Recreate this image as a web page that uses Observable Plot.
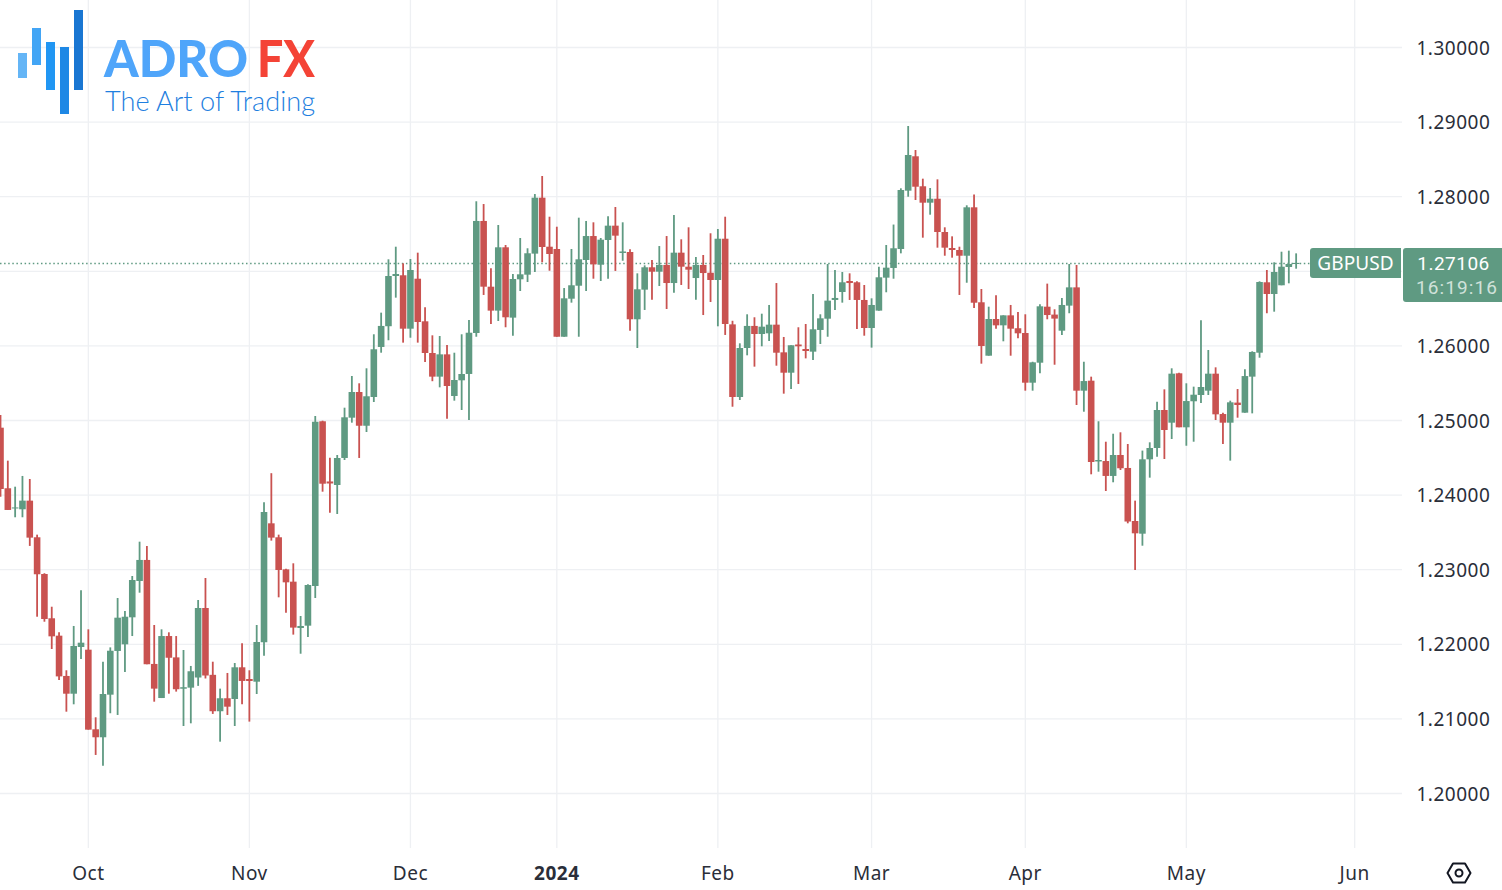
<!DOCTYPE html>
<html>
<head>
<meta charset="utf-8">
<script src="https://cdn.jsdelivr.net/npm/d3@7"></script>
<script src="https://cdn.jsdelivr.net/npm/@observablehq/plot@0.6"></script>
<style>
html,body{margin:0;padding:0;background:#fff;}
#wrap{position:relative;width:1502px;height:890px;overflow:hidden;font-family:"Noto Sans",sans-serif;}
.tag{position:absolute;background:#5f9a82;color:#fff;font-size:19px;text-align:center;box-sizing:border-box;}
#logo,#gear{position:absolute;}
</style>
</head>
<body>
<div id="wrap"></div>
<script>
const symbol = "GBPUSD";
const lastPrice = 1.27106;
const countdown = "16:19:16";
const priceGrid = [1.20,1.21,1.22,1.23,1.24,1.25,1.26,1.27,1.28,1.29,1.30];
const priceLabels = [1.20,1.21,1.22,1.23,1.24,1.25,1.26,1.28,1.29,1.30];
const monthBars = [12,34,56,98,119,140,162,185];
const monthLabels = ["Oct","Nov","Dec","Feb","Mar","Apr","May","Jun"];
const yearBars = [76];
const yearLabels = ["2024"];

const opens = [
1.24897,1.24085,1.23814,1.23803,1.23919,1.23428,1.22936,1.22342,1.22109,1.21569,
1.21331,1.21957,1.21921,1.20854,1.20747,1.21318,1.21904,1.21993,1.22355,1.22842,
1.23124,1.21730,1.21273,1.22104,1.21818,1.21398,1.21412,1.21548,1.22480,1.21584,
1.21096,1.21270,1.21260,1.21685,1.21528,1.21492,1.22020,1.23615,1.23428,1.22998,
1.22833,1.22212,1.22243,1.22775,1.24983,1.24176,1.24129,1.24491,1.25031,1.25375,
1.24923,1.25308,1.25979,1.26257,1.26930,1.26940,1.26224,1.26894,1.26323,1.25898,
1.25581,1.25880,1.25322,1.25532,1.25617,1.26166,1.27668,1.26787,1.26466,1.27315,
1.26372,1.26886,1.26948,1.27230,1.27980,1.27323,1.27292,1.26116,1.26626,1.26800,
1.27145,1.27466,1.27082,1.27413,1.27605,1.27239,1.27252,1.26350,1.26747,1.27047,
1.26988,1.27078,1.26836,1.27243,1.27055,1.26903,1.27078,1.26974,1.26877,1.27430,
1.26282,1.25308,1.25965,1.26261,1.26153,1.26162,1.26278,1.25907,1.25634,1.26012,
1.25952,1.25916,1.26207,1.26358,1.26609,1.26716,1.26863,1.26846,1.26609,1.26233,
1.26466,1.26908,1.27038,1.27292,1.28074,1.28535,1.28133,1.27913,1.27966,1.27520,
1.27306,1.27279,1.27202,1.27851,1.26578,1.25862,1.26354,1.26269,1.26403,1.26230,
1.26166,1.25500,1.25768,1.26519,1.26413,1.26197,1.26533,1.26778,1.25393,1.25527,
1.24444,1.24450,1.24250,1.24531,1.24357,1.23646,1.23476,1.24473,1.24625,1.25134,
1.24964,1.25626,1.24902,1.25251,1.25335,1.25393,1.25621,1.25080,1.24964,1.25233,
1.25098,1.25581,1.25902,1.26846,1.26689,1.26806,1.27051,1.27091];

const highs = [
1.25067,1.24455,1.24106,1.24250,1.24209,1.23463,1.22946,1.22497,1.22154,1.21645,
1.22239,1.22717,1.22194,1.21015,1.21760,1.21952,1.22614,1.22440,1.22909,1.23369,
1.23312,1.22252,1.22194,1.22154,1.22104,1.21917,1.21703,1.22587,1.22882,1.21760,
1.21399,1.21609,1.21743,1.22007,1.21645,1.22252,1.23897,1.24287,1.23463,1.23006,
1.23079,1.22373,1.22797,1.25054,1.24991,1.24495,1.24531,1.25165,1.25590,1.25492,
1.25693,1.26149,1.26439,1.27154,1.27323,1.27100,1.27158,1.27243,1.26511,1.26135,
1.26126,1.26005,1.25902,1.26149,1.26340,1.27932,1.27895,1.27033,1.27614,1.27346,
1.26957,1.27440,1.27302,1.28029,1.28271,1.27725,1.27591,1.26769,1.27292,1.27712,
1.27668,1.27650,1.27440,1.27730,1.27855,1.27650,1.27288,1.26966,1.27073,1.27145,
1.27332,1.27466,1.27748,1.27422,1.27583,1.27185,1.27212,1.27503,1.27560,1.27725,
1.26330,1.26028,1.26417,1.26377,1.26425,1.26542,1.26836,1.26113,1.26002,1.26243,
1.26287,1.26689,1.26417,1.27091,1.27011,1.26984,1.26966,1.26859,1.26810,1.26631,
1.27055,1.27346,1.27620,1.28106,1.28941,1.28619,1.28235,1.28110,1.28226,1.27583,
1.27462,1.27323,1.27878,1.28024,1.26756,1.26519,1.26671,1.26403,1.26542,1.26448,
1.26417,1.25781,1.26551,1.26828,1.26484,1.26635,1.27091,1.27078,1.25781,1.25581,
1.24983,1.24709,1.24816,1.24835,1.24678,1.23919,1.24590,1.24701,1.25245,1.25411,
1.25693,1.25634,1.25492,1.25447,1.26337,1.25938,1.25706,1.25098,1.25259,1.25415,
1.25679,1.25921,1.26859,1.27011,1.27114,1.27256,1.27270,1.27234];

const lows = [
1.23972,1.23794,1.23696,1.23696,1.23312,1.22363,1.22296,1.21930,1.21515,1.21090,
1.21189,1.21797,1.20849,1.20510,1.20366,1.21069,1.21046,1.21621,1.22104,1.22685,
1.21726,1.21224,1.21273,1.21331,1.21359,1.20898,1.20934,1.21436,1.21535,1.21060,
1.20688,1.21046,1.20898,1.21189,1.20957,1.21327,1.21840,1.23383,1.22623,1.22416,
1.22123,1.21867,1.22091,1.22614,1.24039,1.23757,1.23740,1.24464,1.24964,1.24491,
1.24839,1.25241,1.25902,1.26069,1.26640,1.26037,1.26103,1.26037,1.25777,1.25520,
1.25438,1.25017,1.25259,1.25134,1.25000,1.26116,1.26676,1.26287,1.26327,1.26243,
1.26131,1.26729,1.26850,1.26984,1.27114,1.27001,1.26116,1.26116,1.26573,1.26116,
1.26729,1.26894,1.26863,1.26894,1.26998,1.27135,1.26197,1.25965,1.26475,1.26613,
1.26796,1.26488,1.26707,1.26810,1.26756,1.26613,1.26407,1.26582,1.26256,1.26140,
1.25178,1.25268,1.25867,1.25715,1.25988,1.26059,1.25728,1.25353,1.25416,1.25483,
1.25826,1.25804,1.26019,1.26116,1.26475,1.26573,1.26609,1.26220,1.26130,1.25970,
1.26466,1.26712,1.26894,1.27234,1.27993,1.27949,1.27444,1.27752,1.27310,1.27202,
1.27176,1.26676,1.26840,1.26501,1.25755,1.25862,1.26224,1.26055,1.25862,1.26096,
1.25393,1.25393,1.25626,1.26350,1.25741,1.26140,1.26431,1.25201,1.25111,1.24272,
1.24307,1.24048,1.24165,1.24330,1.23615,1.22989,1.23315,1.24227,1.24508,1.24477,
1.24745,1.24902,1.24655,1.24709,1.25228,1.25335,1.25000,1.24678,1.24455,1.25031,
1.25098,1.25089,1.25835,1.26431,1.26452,1.26806,1.26832,1.27028];

const closes = [
1.24075,1.23794,1.23828,1.23919,1.23423,1.22932,1.22332,1.22100,1.21563,1.21331,
1.21971,1.22015,1.20849,1.20747,1.21327,1.21907,1.22350,1.22363,1.22855,1.23124,
1.21726,1.21399,1.22104,1.21813,1.21391,1.21418,1.21632,1.22480,1.21575,1.21096,
1.21270,1.21157,1.21685,1.21502,1.21501,1.22024,1.23767,1.23423,1.22989,1.22824,
1.22217,1.22239,1.22788,1.24977,1.24146,1.24149,1.24491,1.25036,1.25375,1.24923,
1.25318,1.25948,1.26261,1.26930,1.26957,1.26224,1.27011,1.26314,1.25898,1.25581,
1.25880,1.25456,1.25536,1.25617,1.26170,1.27668,1.26787,1.26466,1.27315,1.26377,
1.26890,1.26953,1.27235,1.27980,1.27319,1.27225,1.26116,1.26631,1.26806,1.27154,
1.27466,1.27087,1.27417,1.27605,1.27471,1.27259,1.26350,1.26752,1.27047,1.26988,
1.27078,1.26836,1.27243,1.27055,1.27015,1.27078,1.26970,1.26877,1.27430,1.26287,
1.25308,1.25965,1.26261,1.26153,1.26251,1.26278,1.25902,1.25634,1.26002,1.25988,
1.25925,1.26216,1.26363,1.26600,1.26636,1.26846,1.26836,1.26609,1.26233,1.26542,
1.26913,1.27042,1.27302,1.28083,1.28552,1.28127,1.27913,1.27966,1.27520,1.27310,
1.27279,1.27202,1.27851,1.26572,1.25992,1.26354,1.26269,1.26403,1.26224,1.26162,
1.25500,1.25773,1.26524,1.26407,1.26359,1.26542,1.26778,1.25393,1.25522,1.24437,
1.24464,1.24250,1.24531,1.24353,1.23639,1.23481,1.24473,1.24625,1.25134,1.24866,
1.25621,1.24902,1.25254,1.25339,1.25442,1.25621,1.25076,1.24964,1.25237,1.25201,
1.25589,1.25912,1.26850,1.26689,1.26984,1.27055,1.27091,1.27106];

const UP = "#5f9a82", DOWN = "#c95250", GRID = "#eef0f3", INK = "#2a2e39";
const candles = opens.map((open,i)=>({i,open,high:highs[i],low:lows[i],close:closes[i]}));
const colorOf = d => d.close < d.open ? DOWN : UP;
const FONT = '"Noto Sans",sans-serif';

const chart = Plot.plot({
  width:1502, height:890,
  marginTop:0, marginBottom:42, marginLeft:0, marginRight:100,
  style:{background:"#fff",overflow:"visible",letterSpacing:"0.5px",fontFamily:FONT},
  x:{type:"linear",domain:[0,191.53],axis:null},
  y:{type:"linear",domain:[1.192627,1.3063],axis:null},
  marks:[
    Plot.gridX(monthBars.concat(yearBars),{stroke:GRID,strokeOpacity:1,strokeWidth:1.3}),
    Plot.gridY(priceGrid,{stroke:GRID,strokeOpacity:1,strokeWidth:1.3}),
    Plot.ruleY([lastPrice],{stroke:UP,strokeDasharray:"1.5 2.6",strokeWidth:1.5}),
    Plot.ruleX(candles,{x:"i",y1:"low",y2:"high",stroke:colorOf,strokeWidth:1.8}),
    Plot.ruleX(candles,{x:"i",y1:"open",y2:"close",stroke:colorOf,strokeWidth:6.6}),
    Plot.axisY(priceLabels,{anchor:"right",tickSize:0,tickPadding:14,dy:1,tickFormat:d=>d.toFixed(5),label:null,fontSize:19,fill:INK}),
    Plot.axisX(monthBars,{anchor:"bottom",tickSize:0,tickPadding:18,tickFormat:d=>monthLabels[monthBars.indexOf(d)],label:null,fontSize:19,fill:INK}),
    Plot.axisX(yearBars,{anchor:"bottom",tickSize:0,tickPadding:18,tickFormat:d=>yearLabels[yearBars.indexOf(d)],label:null,fontSize:19,fontWeight:"bold",fill:INK})
  ]
});
const wrap = document.getElementById("wrap");
wrap.appendChild(chart);

const yLast = chart.scale("y").apply(lastPrice);
const tag1 = document.createElement("div");
tag1.className="tag";
tag1.style.cssText=`left:1310px;top:${yLast-15}px;width:91px;height:30px;line-height:31px;letter-spacing:.1px;border-radius:3px 0 0 3px;`;
tag1.textContent=symbol;
wrap.appendChild(tag1);
const tag2 = document.createElement("div");
tag2.className="tag";
tag2.style.cssText=`left:1403px;top:${yLast-15}px;width:99px;height:54px;line-height:24px;padding-top:4px;border-radius:3px 0 0 3px;font-family:Roboto,sans-serif;font-size:19px;`;
tag2.innerHTML=`<div style="letter-spacing:.5px;padding-left:2px">${lastPrice.toFixed(5)}</div><div style="color:#d0e2da;letter-spacing:1.1px;padding-left:9px">${countdown}</div>`;
wrap.appendChild(tag2);

wrap.insertAdjacentHTML("beforeend",`
<svg id="logo" style="left:0;top:0" width="340" height="125" font-family="Lato, sans-serif">
  <rect x="18" y="53" width="9" height="25" fill="#64b5f6"/>
  <rect x="32" y="28" width="9" height="37" fill="#42a5f5"/>
  <rect x="46" y="42" width="9" height="48" fill="#2196f3"/>
  <rect x="60" y="47" width="9" height="67" fill="#1e88e5"/>
  <rect x="74" y="10" width="9" height="80" fill="#1976d2"/>
  <text x="104" y="77" font-size="52" font-weight="900" fill="#4fa5fa" textLength="144" lengthAdjust="spacingAndGlyphs">ADRO</text>
  <text x="257" y="77" font-size="52" font-weight="900" fill="#f44336" textLength="58" lengthAdjust="spacingAndGlyphs">FX</text>
  <text x="105" y="111" font-size="27" font-weight="300" fill="#1f7fe0" textLength="210" lengthAdjust="spacingAndGlyphs">The Art of Trading</text>
</svg>
<svg id="gear" style="left:1445px;top:859px" width="28" height="28" fill="none" stroke="#131722" stroke-width="2">
  <path d="M8 4.5H20L25.5 14L20 23.5H8L2.5 14Z" stroke-linejoin="round"/>
  <circle cx="14" cy="14" r="3.5"/>
</svg>`);
</script>
</body>
</html>
